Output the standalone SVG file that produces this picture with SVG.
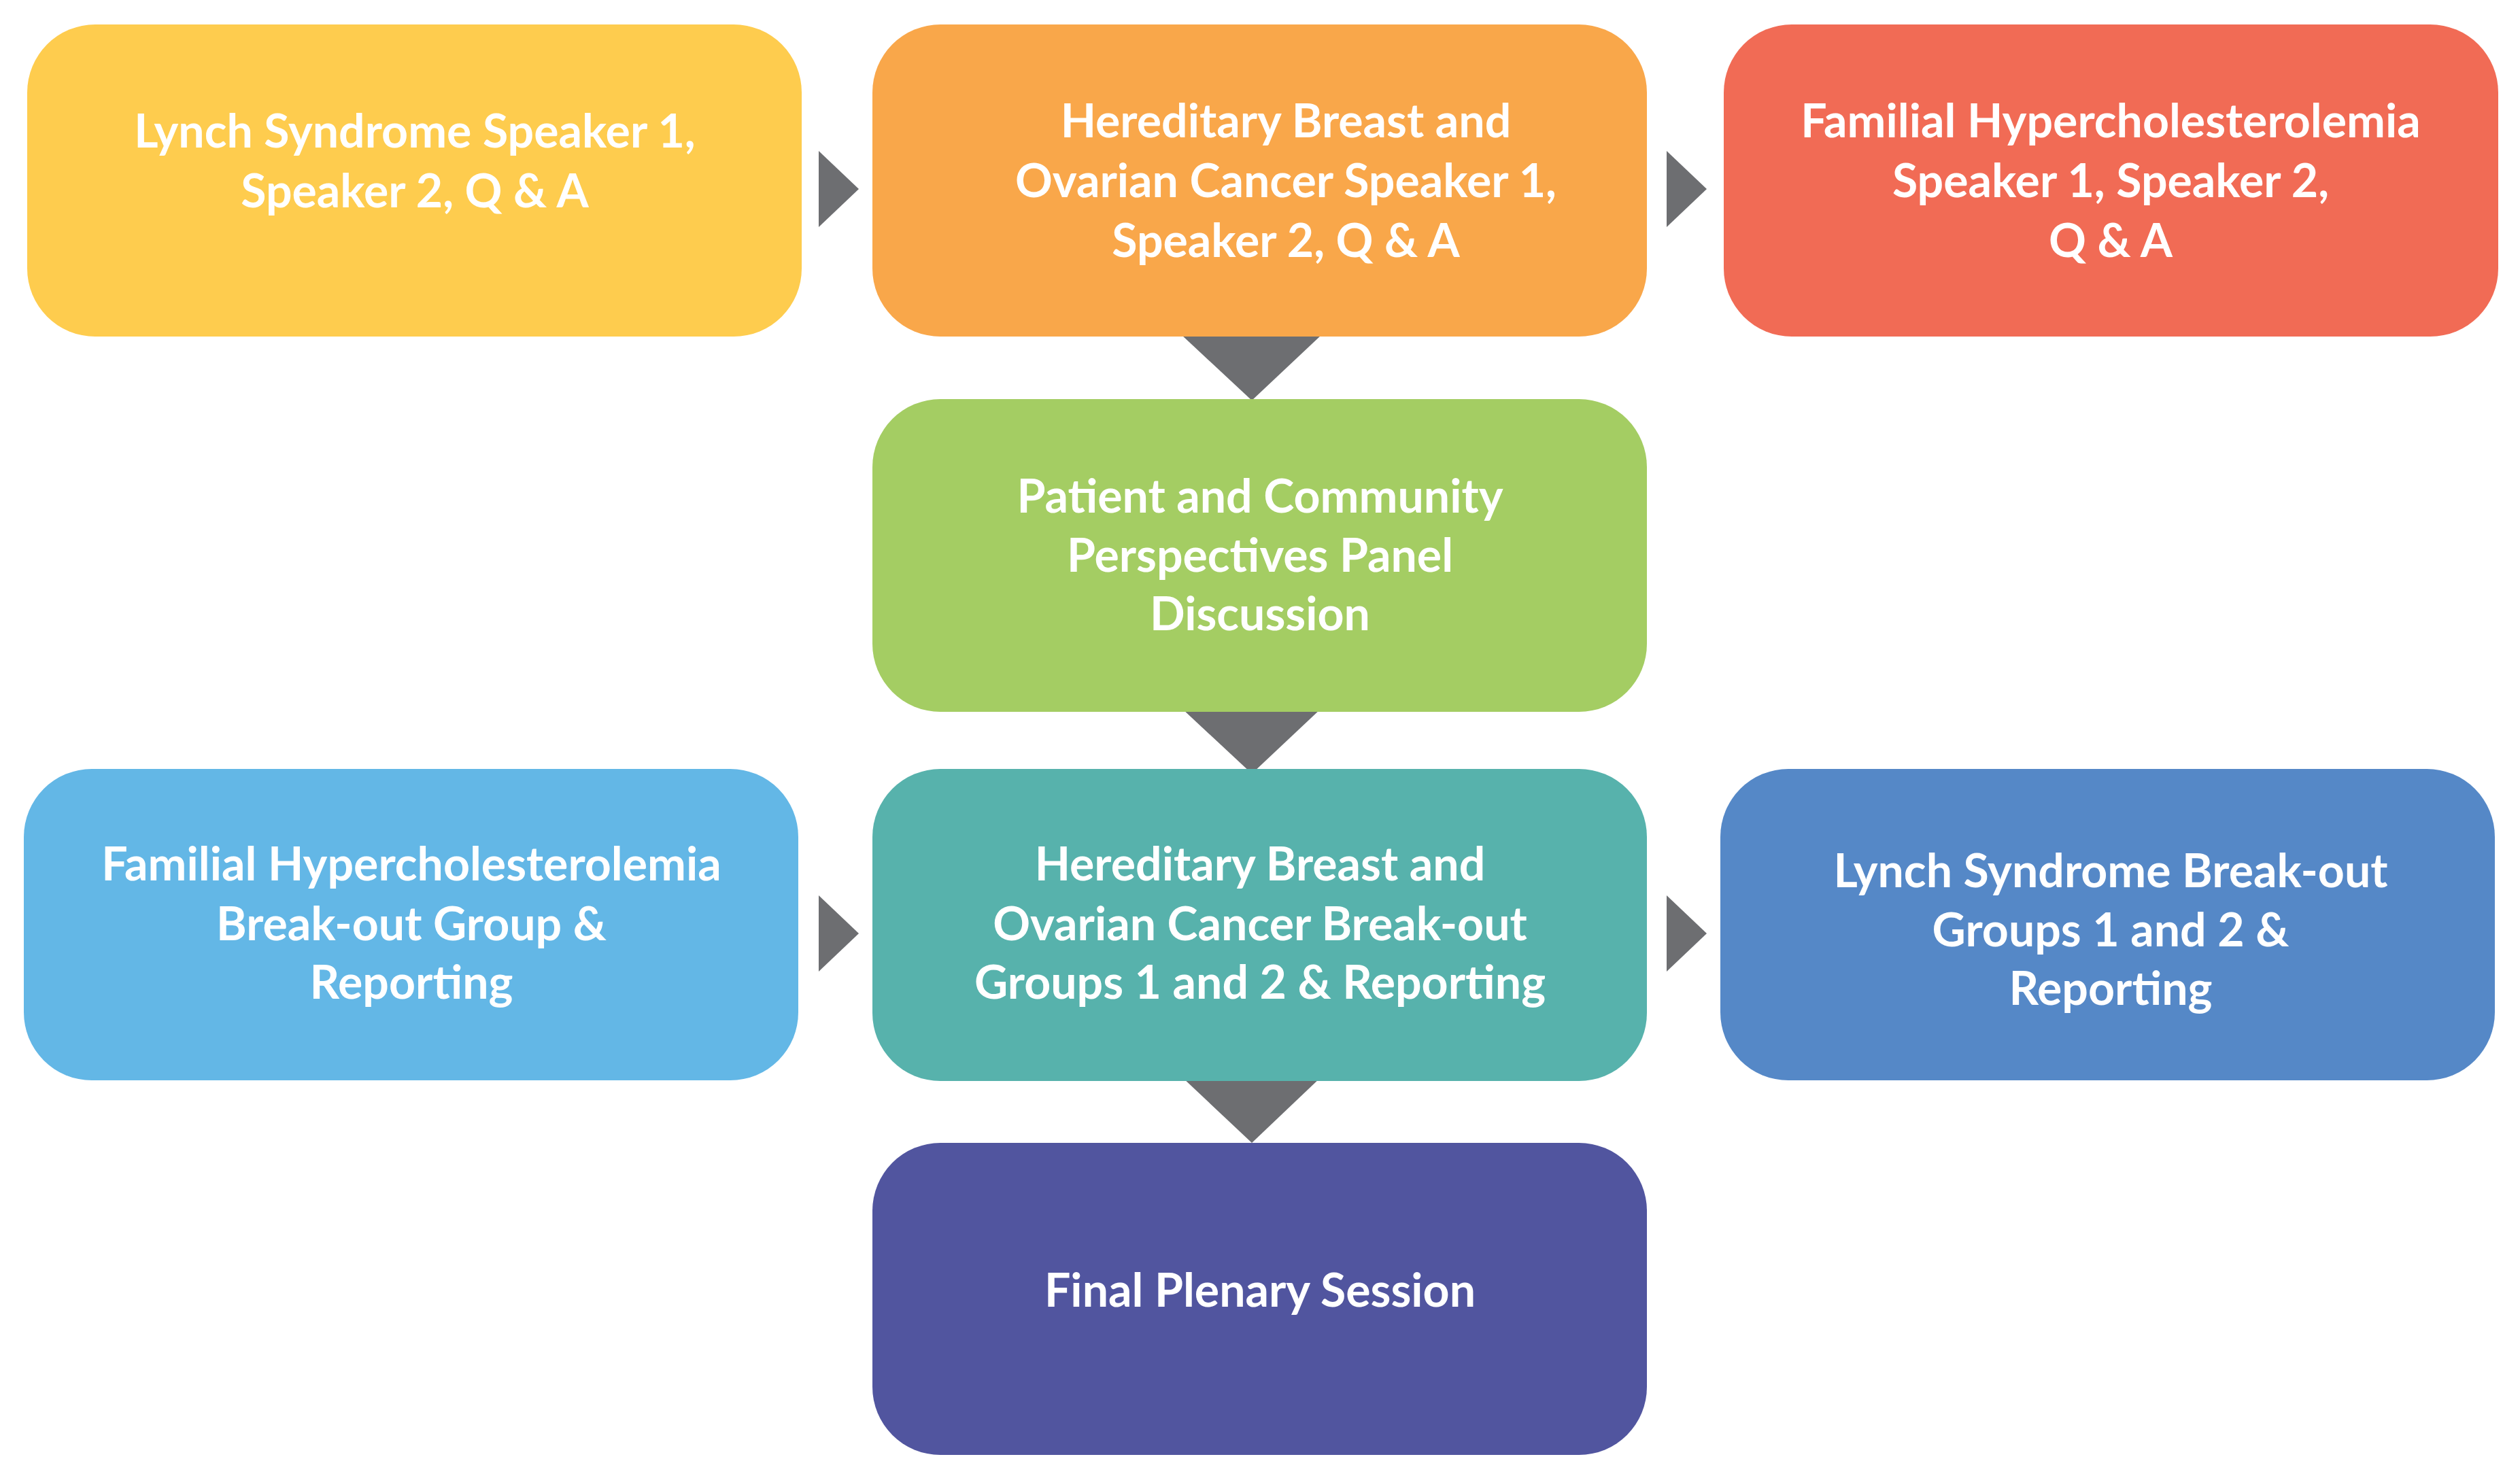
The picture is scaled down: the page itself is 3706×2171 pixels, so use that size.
<svg xmlns="http://www.w3.org/2000/svg" width="3706" height="2171" viewBox="0 0 3706 2171">
<style>
.box{stroke:none}
.t{font-family:Lato,"Liberation Sans",sans-serif;font-weight:bold;font-size:68px;fill:#ffffff;text-anchor:middle}
.arr{fill:#6D6E71}
</style>
<rect width="3706" height="2171" fill="#ffffff"/>
<g id="connectors">
<polygon class="arr" points="1204,222 1263,278 1204,334"/>
<polygon class="arr" points="2451,222 2510,278 2451,334"/>
<polygon class="arr" points="1738,493 1943,493 1841,589"/>
<polygon class="arr" points="1738,1042 1943,1042 1841,1138"/>
<polygon class="arr" points="1204,1317 1263,1373 1204,1429"/>
<polygon class="arr" points="2451,1317 2510,1373 2451,1429"/>
<polygon class="arr" points="1738,1584 1943,1584 1841,1681"/>
</g>
<g id="n1">
<rect class="box" x="40" y="36" width="1139" height="459" rx="100" ry="100" fill="#FECC4E"/>
<text class="t" x="610" y="217">Lynch Syndrome Speaker 1,</text>
<text class="t" x="610" y="305">Speaker 2, Q &amp; A</text>
</g>
<g id="n2">
<rect class="box" x="1283" y="36" width="1139" height="459" rx="100" ry="100" fill="#F9A74A"/>
<text class="t" x="1891" y="202">Hereditary Breast and</text>
<text class="t" x="1891" y="290">Ovarian Cancer Speaker 1,</text>
<text class="t" x="1891" y="378">Speaker 2, Q &amp; A</text>
</g>
<g id="n3">
<rect class="box" x="2535" y="36" width="1139" height="459" rx="100" ry="100" fill="#F16B55"/>
<text class="t" x="3104" y="202">Familial Hypercholesterolemia</text>
<text class="t" x="3104" y="290">Speaker 1, Speaker 2,</text>
<text class="t" x="3104" y="378">Q &amp; A</text>
</g>
<g id="n4">
<rect class="box" x="1283" y="587" width="1139" height="460" rx="100" ry="100" fill="#A4CD63"/>
<text class="t" x="1853" y="754">Patient and Community</text>
<text class="t" x="1853" y="841">Perspectives Panel</text>
<text class="t" x="1853" y="927">Discussion</text>
</g>
<g id="n5">
<rect class="box" x="35" y="1131" width="1139" height="458" rx="100" ry="100" fill="#63B7E6"/>
<text class="t" x="605" y="1295">Familial Hypercholesterolemia</text>
<text class="t" x="605" y="1383">Break-out Group &amp;</text>
<text class="t" x="605" y="1469">Reporting</text>
</g>
<g id="n6">
<rect class="box" x="1283" y="1131" width="1139" height="459" rx="100" ry="100" fill="#57B2AC"/>
<text class="t" x="1853" y="1295">Hereditary Breast and</text>
<text class="t" x="1853" y="1383">Ovarian Cancer Break-out</text>
<text class="t" x="1853" y="1469">Groups 1 and 2 &amp; Reporting</text>
</g>
<g id="n7">
<rect class="box" x="2530" y="1131" width="1139" height="458" rx="100" ry="100" fill="#5588C7"/>
<text class="t" x="3104" y="1305">Lynch Syndrome Break-out</text>
<text class="t" x="3104" y="1392">Groups 1 and 2 &amp;</text>
<text class="t" x="3104" y="1478">Reporting</text>
</g>
<g id="n8">
<rect class="box" x="1283" y="1681" width="1139" height="459" rx="100" ry="100" fill="#51559F"/>
<text class="t" x="1853" y="1922">Final Plenary Session</text>
</g>
</svg>
